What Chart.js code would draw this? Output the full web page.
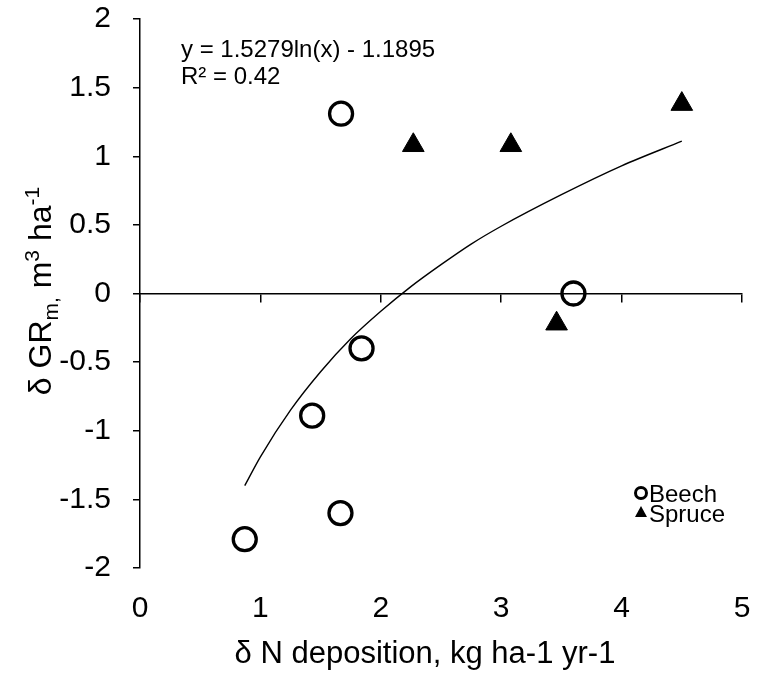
<!DOCTYPE html>
<html>
<head>
<meta charset="utf-8">
<script src="https://cdn.jsdelivr.net/npm/chart.js@4/dist/chart.umd.min.js"></script>
<style>
  html, body { margin: 0; padding: 0; background: #fff; }
  #wrap { width: 757px; height: 675px; }
</style>
</head>
<body>
<div id="wrap"><canvas id="chart"></canvas></div>
<script>
// values
const beechX = [1.67, 3.6, 1.84, 1.43, 1.665, 0.87];
const beechY = [1.31, 0, -0.4, -0.89, -1.6, -1.79];
const spruceX = [2.27, 3.08, 3.46, 4.5];
const spruceY = [1.08, 1.08, -0.22, 1.38];
// trend line (log fit)
const trendX = [0.87, 1, 1.25, 1.5, 1.75, 2, 2.25, 2.5, 2.75, 3, 3.5, 4, 4.5];
const trendY = [-1.40, -1.19, -0.85, -0.57, -0.33, -0.13, 0.05, 0.21, 0.36, 0.49, 0.72, 0.93, 1.11];
const xTicks = [0, 1, 2, 3, 4, 5];
const yTicks = [-2, -1.5, -1, -0.5, 0, 0.5, 1, 1.5, 2];
const equationLines = ["y = 1.5279ln(x) - 1.1895", "R\u00B2 = 0.42"];
const seriesNames = ["Beech", "Spruce"];
const xTitle = "\u03B4 N deposition, kg ha-1 yr-1";

const FONT = '"Liberation Sans", Arial, sans-serif';

function toPoints(xs, ys) {
    return xs.map((x, i) => ({ x: x, y: ys[i] }));
}

// equation, legend and axis titles (y title has sub/superscripts)
const extras = {
    id: "extras",
    afterDraw(chart) {
        const ctx = chart.ctx;
        ctx.save();
        ctx.fillStyle = "#000";
        ctx.strokeStyle = "#000";

        // fit equation
        ctx.font = "24px " + FONT;
        ctx.textBaseline = "middle";
        ctx.textAlign = "left";
        ctx.fillText(equationLines[0], 181, 50);
        ctx.fillText(equationLines[1], 181, 77);

        // legend
        ctx.lineWidth = 3;
        ctx.beginPath();
        ctx.arc(641, 493, 5.5, 0, Math.PI * 2);
        ctx.stroke();
        ctx.fillText(seriesNames[0], 649, 495);
        ctx.beginPath();
        ctx.moveTo(641, 506);
        ctx.lineTo(647, 517);
        ctx.lineTo(635, 517);
        ctx.closePath();
        ctx.fill();
        ctx.fillText(seriesNames[1], 649, 515);

        // x axis title
        ctx.font = "31px " + FONT;
        ctx.textAlign = "center";
        ctx.fillText(xTitle, 425, 654);

        // y axis title
        ctx.textAlign = "left";
        const parts = [
            ["\u03B4 GR", 32, 0],
            ["m,", 21, 7],
            [" m", 32, 0],
            ["3", 21, -12],
            [" ha", 32, 0],
            ["-1", 21, -12]
        ];
        let total = 0;
        parts.forEach(p => { ctx.font = p[1] + "px " + FONT; total += ctx.measureText(p[0]).width; });
        ctx.translate(40, 291);
        ctx.rotate(-Math.PI / 2);
        ctx.textBaseline = "alphabetic";
        let pos = -total / 2;
        parts.forEach(p => {
            ctx.font = p[1] + "px " + FONT;
            ctx.fillText(p[0], pos, 11 + p[2]);
            pos += ctx.measureText(p[0]).width;
        });
        ctx.restore();
    }
};

const ctx = document.getElementById("chart").getContext("2d");
const chart = new Chart(ctx, {
    type: "scatter",
    data: {
        datasets: [
            {
                label: seriesNames[0],
                data: toPoints(beechX, beechY),
                pointStyle: "circle",
                pointRadius: 11.5,
                pointBorderWidth: 3.3,
                borderColor: "#000",
                backgroundColor: "rgba(0,0,0,0)",
                order: 1
            },
            {
                label: seriesNames[1],
                data: toPoints(spruceX, spruceY),
                pointStyle: "triangle",
                pointRadius: 12.5,
                pointBorderWidth: 1,
                borderColor: "#000",
                backgroundColor: "#000",
                order: 1
            },
            {
                label: "trend",
                data: toPoints(trendX, trendY),
                showLine: true,
                cubicInterpolationMode: "monotone",
                pointRadius: 0,
                borderColor: "#000",
                borderWidth: 1.4,
                fill: false,
                order: 2
            }
        ]
    },
    options: {
        responsive: true,
        maintainAspectRatio: false,
        animation: false,
        layout: { padding: { top: 19, right: 15, left: 0, bottom: 0 } },
        plugins: {
            legend: { display: false },
            tooltip: { enabled: false }
        },
        scales: {
            x: {
                type: "linear",
                position: "bottom",
                min: 0,
                max: 5,
                afterBuildTicks: s => { s.ticks = xTicks.map(v => ({ value: v })); },
                afterFit: s => { s.height = 107; s.paddingLeft = 0; s.paddingRight = 0; },
                ticks: { color: "#000", font: { family: FONT, size: 30 }, padding: 23, callback: v => String(v) },
                grid: { display: false, drawTicks: false },
                border: { display: false }
            },
            xZero: {
                type: "linear",
                axis: "x",
                position: { y: 0 },
                min: 0,
                max: 5,
                afterBuildTicks: s => { s.ticks = xTicks.map(v => ({ value: v })); },
                afterFit: s => { s.paddingLeft = 0; s.paddingRight = 0; },
                ticks: { display: false },
                grid: { drawOnChartArea: false, drawTicks: true, tickLength: 8, color: "#000", lineWidth: 1.5 },
                border: { display: true, color: "#000", width: 1.5 }
            },
            y: {
                type: "linear",
                min: -2,
                max: 2,
                afterBuildTicks: s => { s.ticks = yTicks.map(v => ({ value: v })); },
                afterFit: s => { s.width = 140; s.paddingTop = 0; s.paddingBottom = 0; },
                ticks: { color: "#000", font: { family: FONT, size: 30 }, padding: 22, callback: v => String(v) },
                grid: { drawOnChartArea: false, drawTicks: true, tickLength: 7, color: "#000", lineWidth: 1.5 },
                border: { display: true, color: "#000", width: 1.5 }
            }
        }
    },
    plugins: [extras]
});
</script>
</body>
</html>
